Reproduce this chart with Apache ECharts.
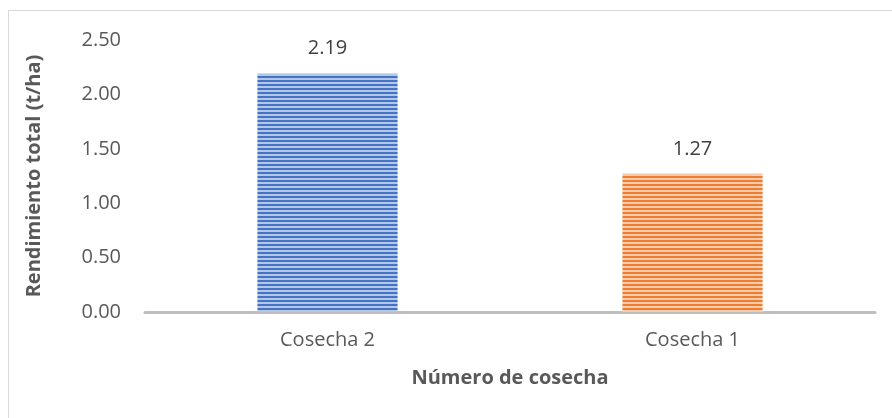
<!DOCTYPE html>
<html><head><meta charset="utf-8">
<script src="https://cdn.jsdelivr.net/npm/echarts@6/dist/echarts.min.js"></script>
<style>html,body{margin:0;padding:0;background:#fff}#c{width:892px;height:418px}
#frame{position:absolute;left:8px;top:10px;width:900px;height:420px;border:1.5px solid #D9D9D9;box-sizing:border-box;pointer-events:none}</style>
</head><body><div id="c"></div><div id="frame"></div>
<script>
const categories = ["Cosecha 2", "Cosecha 1"];
const values = [2.19, 1.27];
const yTicks = ["0.00","0.50","1.00","1.50","2.00","2.50"];
const barColors = [["#4472C4","#B4C7E7"],["#ED7D31","#F8CBAD"]];

function stripes(dark, light){
  const cv = document.createElement('canvas');
  cv.width = 8; cv.height = 4;
  const ctx = cv.getContext('2d');
  ctx.fillStyle = light; ctx.fillRect(0,0,8,4);
  ctx.fillStyle = dark; ctx.fillRect(0,0,8,2);
  return {image: cv, repeat: 'repeat'};
}
const font = "'Open Sans', sans-serif";
const chart = echarts.init(document.getElementById('c'), null, {renderer:'canvas'});
chart.setOption({
  animation:false,
  grid:{left:145,right:17,top:40,bottom:106,containLabel:false},
  xAxis:{type:'category',data:categories,
    axisLine:{lineStyle:{color:'#BFBFBF',width:3}},axisTick:{show:false},
    axisLabel:{color:'#595959',fontSize:20,fontFamily:font,margin:18},
    name:'Número de cosecha',nameLocation:'middle',nameGap:56,
    nameTextStyle:{color:'#595959',fontSize:20,fontWeight:'bold',fontFamily:font}},
  yAxis:{type:'value',min:0,max:2.5,interval:0.5,
    axisLine:{show:false},axisTick:{show:false},splitLine:{show:false},
    axisLabel:{color:'#595959',fontSize:20,fontFamily:font,margin:24,
      formatter:(v)=>yTicks[Math.round(v/0.5)]},
    name:'Rendimiento total (t/ha)',nameLocation:'middle',nameGap:101,
    nameTextStyle:{color:'#595959',fontSize:20,fontWeight:'bold',fontFamily:font}},
  series:[{type:'bar',barWidth:'38.4%',
    data:values.map((v,i)=>({value:v,itemStyle:{color:stripes(barColors[i][0],barColors[i][1])}})),
    label:{show:true,position:'top',distance:15,color:'#404040',fontSize:20,fontFamily:font,
      formatter:(p)=>p.value.toFixed(2)}}]
});
</script></body></html>
